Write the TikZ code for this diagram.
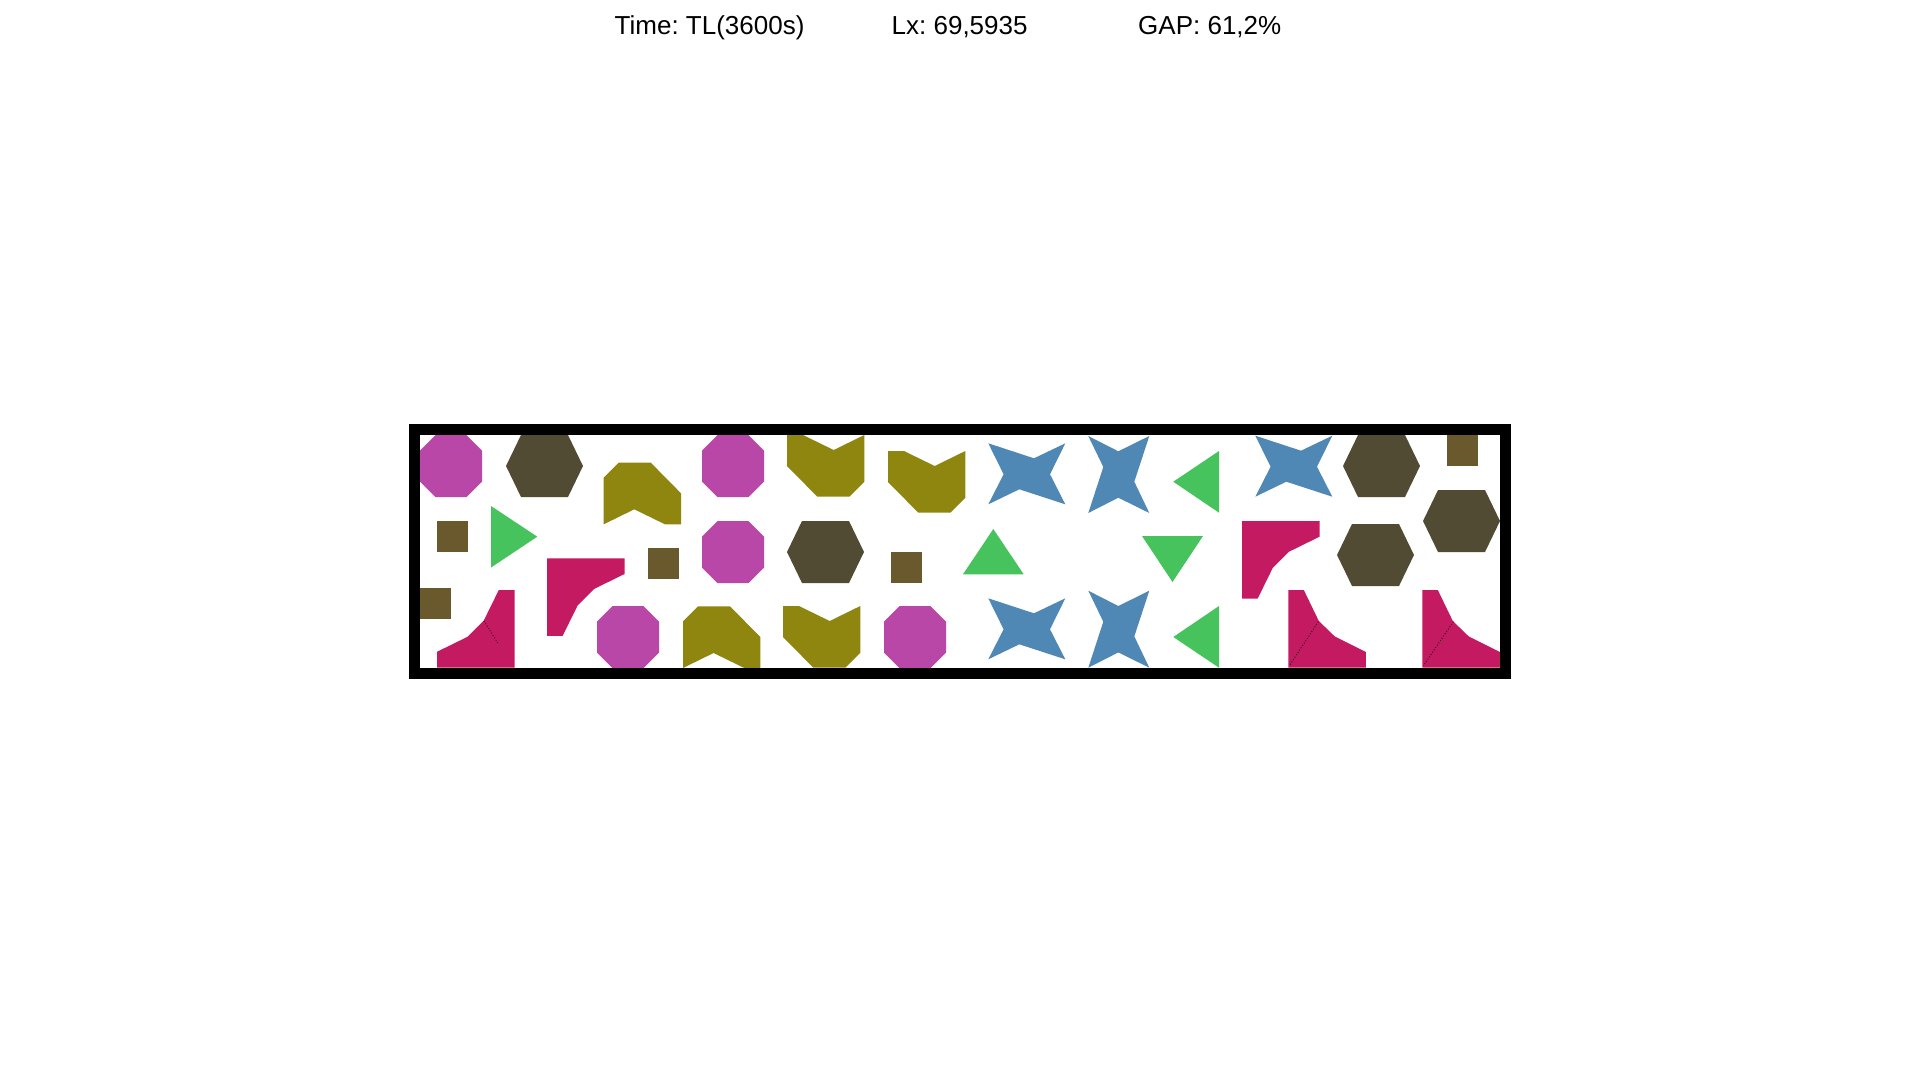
\documentclass[tikz,border=0pt]{standalone}
\usepackage{fontspec}
\newfontfamily\hdrfont{Liberation Sans}
\usepackage{tikz}
\usepackage{xcolor}
\frenchspacing

\definecolor{octcol}{RGB}{184,71,168}
\definecolor{hexcol}{RGB}{82,75,51}
\definecolor{sqcol}{RGB}{107,89,46}
\definecolor{chevcol}{RGB}{143,134,16}
\definecolor{tricol}{RGB}{70,195,92}
\definecolor{starcol}{RGB}{79,135,181}
\definecolor{cornercol}{RGB}{196,26,98}

\begin{document}
\begin{tikzpicture}[x=1pt, y=-1pt,
    octa/.style={fill=octcol},
    hexa/.style={fill=hexcol},
    sqr/.style={fill=sqcol},
    chev/.style={fill=chevcol},
    tri/.style={fill=tricol},
    star/.style={fill=starcol},
    corner/.style={fill=cornercol},
    cut/.style={black, line width=0.8pt, dotted},
    hdr/.style={anchor=base west, inner sep=0pt, font=\hdrfont\fontsize{26}{31}\selectfont}]
    \useasboundingbox[fill=white] (0,0) rectangle (1920,1080);

    % Header
    \node[hdr] (time) at (614.5,34.7) {Time: TL(3600s)};
    \node[hdr] (lx) at (891.5,34.7) {Lx: 69,5935};
    \node[hdr] (gap) at (1138,34.7) {GAP: 61,2\%};

    % Octagons
    \foreach \px/\py in {420/435, 597/606, 702/435, 702/521, 884/606} {
        \fill[octa, shift={(\px,\py)}] (15.5,0) -- (46.5,0) -- (62,15.5) -- (62,46.5)
            -- (46.5,62) -- (15.5,62) -- (0,46.5) -- (0,15.5) -- cycle;
    }

    % Hexagons
    \foreach \px/\py in {506/435, 787/521, 1343/435, 1423/490, 1337/524} {
        \fill[hexa, shift={(\px,\py)}] (15,0) -- (62,0) -- (77,31) -- (62,62)
            -- (15,62) -- (0,31) -- cycle;
    }

    % Squares
    \foreach \px/\py in {437/521, 420/588, 648/548, 891/552, 1447/435} {
        \fill[sqr] (\px,\py) rectangle ++(31,31);
    }

    % Chevrons
    \foreach \px/\py/\s in {787/435/1, 888/451/1, 783/606/1, 681/524.3/-1, 760.3/668/-1} {
        \fill[chev, shift={(\px,\py)}, scale=\s] (0,0) -- (16,0) -- (46.7,15) -- (77.3,0)
            -- (77.3,46.7) -- (62.3,61.7) -- (30.3,61.7) -- (0,31) -- cycle;
    }

    % Triangles
    \fill[tri] (491,506) -- (491,567.5) -- (537.3,536.7) -- cycle;
    \fill[tri] (1219,451) -- (1219,512.7) -- (1173.3,481.7) -- cycle;
    \fill[tri] (1219,606) -- (1219,667.7) -- (1173.3,637) -- cycle;
    \fill[tri] (993.3,529) -- (963,574.3) -- (1023.7,574.3) -- cycle;
    \fill[tri] (1142,536) -- (1203,536) -- (1172.5,582) -- cycle;

    % Stars
    \foreach \px/\py in {988.3/443.3, 988.3/598.3, 1255.3/435.7} {
        \fill[star, shift={(\px,\py)}] (0,0) -- (45.7,15) -- (77,0) -- (61.7,31)
            -- (77,61) -- (31,46) -- (0,61) -- (15.3,31) -- cycle;
    }
    \foreach \px/\py in {1088.3/436, 1088.3/590.7} {
        \fill[star, shift={(\px,\py)}] (0,0) -- (30,15.3) -- (61,0) -- (46,45.7)
            -- (61,77) -- (30,61.7) -- (0,77) -- (15,31) -- cycle;
    }

    % Corner pieces
    \foreach \px/\py/\s in {547/558.3/1, 1242/521/1, 514.5/667.5/-1} {
        \fill[corner, shift={(\px,\py)}, scale=\s] (0,0) -- (77.5,0) -- (77.5,15.7)
            -- (47,30.7) -- (30.7,47) -- (15.7,77.5) -- (0,77.5) -- cycle;
    }
    \foreach \px/\py in {1288.3/590, 1422.3/590} {
        \fill[corner, shift={(\px,\py)}] (0,0) -- (15.5,0) -- (30.5,31) -- (46.5,46.5)
            -- (77.5,62) -- (77.5,77.5) -- (0,77.5) -- cycle;
    }
    \draw[cut] (484,621) -- (497.7,642.7);
    \draw[cut] (1318.3,621.7) -- (1289.3,665.7);
    \draw[cut] (1453.3,621.7) -- (1423.3,665.7);

    % Strip
    \draw[line width=11pt] (414.5,429.5) rectangle (1505.5,673.5);
\end{tikzpicture}
\end{document}
